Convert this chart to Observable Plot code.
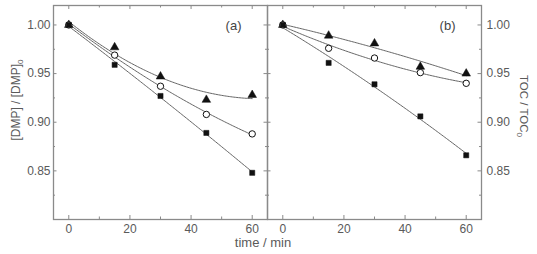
<!DOCTYPE html>
<html>
<head>
<meta charset="utf-8">
<script src="https://cdn.jsdelivr.net/npm/d3@7"></script>
<script src="https://cdn.jsdelivr.net/npm/@observablehq/plot@0.6"></script>
<style>
  body { margin: 0; background: #fff; }
  #chart { width: 537px; height: 254px; }
</style>
</head>
<body>
<div id="chart"></div>
<script>
// Sampling times (min)
const time = [0, 15, 30, 45, 60];

// (a) relative DMP concentration [DMP]/[DMP]0
const dmpTriangle = [1.000, 0.977, 0.947, 0.923, 0.928];
const dmpCircle   = [1.000, 0.969, 0.937, 0.908, 0.888];
const dmpSquare   = [1.000, 0.959, 0.927, 0.889, 0.848];

// (b) relative total organic carbon TOC/TOC0
const tocTriangle = [1.000, 0.989, 0.981, 0.957, 0.950];
const tocCircle   = [1.000, 0.976, 0.966, 0.951, 0.940];
const tocSquare   = [1.000, 0.961, 0.939, 0.906, 0.866];

const panels = ["a", "b"];
const panelLabels = ["(a)", "(b)"];
const xTicks = [0, 20, 40, 60];
const xMinor = [10, 30, 50];
const yTicks = [0.85, 0.90, 0.95, 1.00];
const yMinor = [0.825, 0.875, 0.925, 0.975];

// layout
const W = 537, H = 254;
const mL = 52, mR = 56, mT = 5, mB = 35;
const facetW = (W - mL - mR) / panels.length;
const plotH = H - mT - mB;
const grey = "#8a8a8a";
const textGrey = "#5a5a5a";

// one row per measured point
const seriesDefs = [
  {panel: "a", shape: "triangle", values: dmpTriangle},
  {panel: "a", shape: "circle",   values: dmpCircle},
  {panel: "a", shape: "square",   values: dmpSquare},
  {panel: "b", shape: "triangle", values: tocTriangle},
  {panel: "b", shape: "circle",   values: tocCircle},
  {panel: "b", shape: "square",   values: tocSquare}
];
const points = seriesDefs.flatMap(s =>
  s.values.map((v, i) => ({panel: s.panel, shape: s.shape, t: time[i], y: v})));

// second-order least-squares fit through each series
function quadFit(xs, ys) {
  const S = k => d3.sum(xs, x => x ** k);
  const T = k => d3.sum(xs, (x, i) => ys[i] * x ** k);
  const A = [[S(0), S(1), S(2)], [S(1), S(2), S(3)], [S(2), S(3), S(4)]];
  const b = [T(0), T(1), T(2)];
  // Gaussian elimination
  for (let i = 0; i < 3; i++) {
    for (let j = i + 1; j < 3; j++) {
      const f = A[j][i] / A[i][i];
      for (let k = i; k < 3; k++) A[j][k] -= f * A[i][k];
      b[j] -= f * b[i];
    }
  }
  const c = [0, 0, 0];
  for (let i = 2; i >= 0; i--) {
    let s = b[i];
    for (let k = i + 1; k < 3; k++) s -= A[i][k] * c[k];
    c[i] = s / A[i][i];
  }
  return t => c[0] + c[1] * t + c[2] * t * t;
}
const fits = seriesDefs.flatMap(s => {
  const f = quadFit(time, s.values);
  return d3.range(0, 60.5, 0.5).map(t => ({panel: s.panel, shape: s.shape, t, y: f(t)}));
});

const byShape = shape => points.filter(d => d.shape === shape);
const labelRows = panels.map((p, i) => ({panel: p, label: panelLabels[i]}));

const plot = Plot.plot({
  width: W,
  height: H,
  marginLeft: mL,
  marginRight: mR,
  marginTop: mT,
  marginBottom: mB,
  style: {fontFamily: "'Liberation Sans', Arial, sans-serif", fontSize: "12px", color: textGrey, background: "#fff"},
  fx: {domain: panels, padding: 0, axis: null},
  x: {domain: [-5, 65]},
  y: {domain: [0.80, 1.02]},
  marks: [
    // fitted curves
    Plot.line(fits, {fx: "panel", x: "t", y: "y", z: "shape", stroke: "#666", strokeWidth: 1, curve: "linear"}),
    // measured points
    Plot.dot(byShape("triangle"), {fx: "panel", x: "t", y: "y", symbol: "triangle", r: 3.2, fill: "#111", stroke: "#111", strokeWidth: 0.5}),
    Plot.dot(byShape("circle"), {fx: "panel", x: "t", y: "y", symbol: "circle", r: 3.2, fill: "#fff", stroke: "#111", strokeWidth: 1}),
    Plot.dot(byShape("square"), {fx: "panel", x: "t", y: "y", symbol: "square", r: 2.9, fill: "#111", stroke: "#111", strokeWidth: 0.5}),
    // inward ticks on all four sides of each panel
    Plot.ruleY(yTicks, {y: d => d, insetRight: facetW - 4, stroke: grey}),
    Plot.ruleY(yTicks, {y: d => d, insetLeft: facetW - 4, stroke: grey}),
    Plot.ruleY(yMinor, {y: d => d, insetRight: facetW - 2.5, stroke: grey}),
    Plot.ruleY(yMinor, {y: d => d, insetLeft: facetW - 2.5, stroke: grey}),
    Plot.ruleX(xTicks, {x: d => d, insetTop: plotH - 4, stroke: grey}),
    Plot.ruleX(xTicks, {x: d => d, insetBottom: plotH - 4, stroke: grey}),
    Plot.ruleX(xMinor, {x: d => d, insetTop: plotH - 2.5, stroke: grey}),
    Plot.ruleX(xMinor, {x: d => d, insetBottom: plotH - 2.5, stroke: grey}),
    Plot.frame({stroke: grey, strokeWidth: 1.3}),
    // tick labels
    Plot.axisX({ticks: xTicks, tickSize: 0, tickPadding: 5, label: null, fill: textGrey}),
    Plot.axisY({anchor: "left", ticks: yTicks, tickSize: 0, tickPadding: 3, tickFormat: ".2f", label: null, fill: textGrey}),
    Plot.axisY({anchor: "right", ticks: yTicks, tickSize: 0, tickPadding: 5, tickFormat: ".2f", label: null, fill: textGrey}),
    // panel tags
    Plot.text(labelRows, {fx: "panel", text: "label", frameAnchor: "top-right", dx: -26, dy: 15, fontSize: 13, fill: "#444"})
  ]
});
document.getElementById("chart").append(plot);

// axis titles with subscripts
const svg = d3.select(plot);
const font = "'Liberation Sans', Arial, sans-serif";
const leftTitle = svg.append("text")
  .attr("transform", "translate(16,100) rotate(-90)")
  .attr("text-anchor", "middle").attr("dominant-baseline", "central")
  .attr("fill", textGrey).style("font", `12px ${font}`);
leftTitle.append("tspan").text("[DMP] / [DMP]");
leftTitle.append("tspan").attr("baseline-shift", "sub").style("font-size", "8px").text("0");

const rightTitle = svg.append("text")
  .attr("transform", "translate(524,106) rotate(90)")
  .attr("text-anchor", "middle").attr("dominant-baseline", "central")
  .attr("fill", textGrey).style("font", `11.5px ${font}`);
rightTitle.append("tspan").text("TOC / TOC");
rightTitle.append("tspan").attr("baseline-shift", "sub").style("font-size", "8px").text("0");

svg.append("text")
  .attr("x", 263).attr("y", 247)
  .attr("text-anchor", "middle")
  .attr("fill", textGrey).style("font", `13px ${font}`)
  .text("time / min");
</script>
</body>
</html>
